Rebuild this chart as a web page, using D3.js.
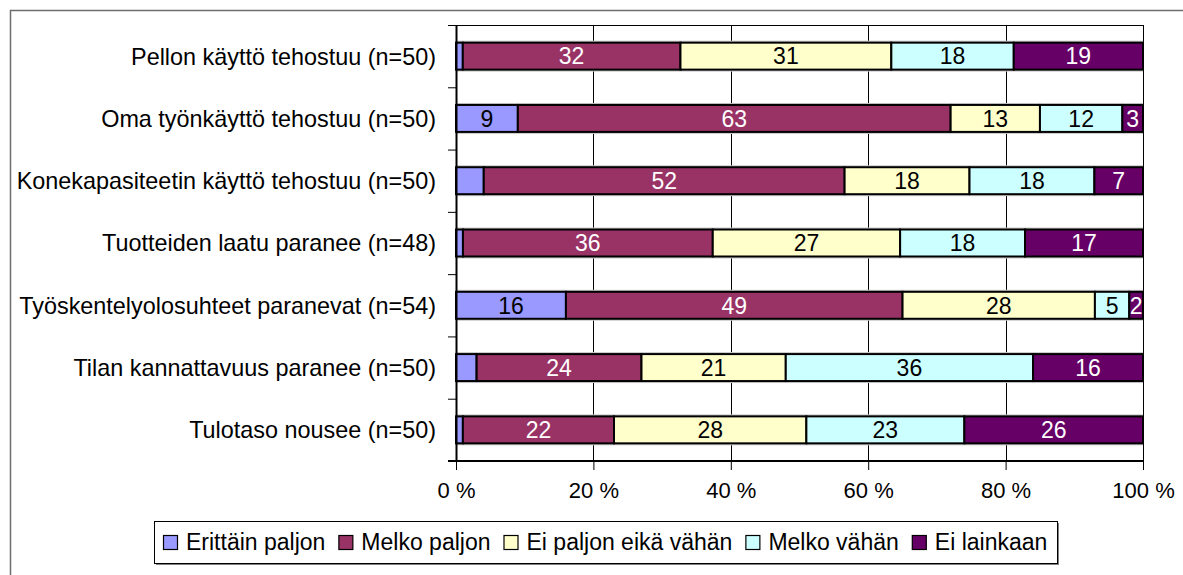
<!DOCTYPE html>
<html>
<head>
<meta charset="utf-8">
<script src="https://cdn.jsdelivr.net/npm/d3@7/dist/d3.min.js"></script>
<style>
  body { margin: 0; background: #fff; }
  svg { display: block; font-family: "Liberation Sans", Arial, sans-serif; }
</style>
</head>
<body>
<div id="chart"></div>
<script>
var categories = [
  'Pellon käyttö tehostuu (n=50)',
  'Oma työnkäyttö tehostuu (n=50)',
  'Konekapasiteetin käyttö tehostuu (n=50)',
  'Tuotteiden laatu paranee (n=48)',
  'Työskentelyolosuhteet paranevat (n=54)',
  'Tilan kannattavuus paranee (n=50)',
  'Tulotaso nousee (n=50)'
];
var seriesNames = ['Erittäin paljon', 'Melko paljon', 'Ei paljon eikä vähän', 'Melko vähän', 'Ei lainkaan'];
var erittainPaljon = [1, 9, 4, 1, 16, 3, 1];
var melkoPaljon = [32, 63, 52, 36, 49, 24, 22];
var eiPaljonEikaVahan = [31, 13, 18, 27, 28, 21, 28];
var melkoVahan = [18, 12, 18, 18, 5, 36, 23];
var eiLainkaan = [19, 3, 7, 17, 2, 16, 26];
var xTicks = [0, 0.2, 0.4, 0.6, 0.8, 1];

var colors = ['#9999ff', '#993366', '#ffffcc', '#ccffff', '#660066'];
var labelColors = ['#000', '#fff', '#000', '#000', '#fff'];

var _width = 1183, _height = 575;
var _left = 456, _right = 1143, _top = 25, _bottom = 461;

var seriesData = [erittainPaljon, melkoPaljon, eiPaljonEikaVahan, melkoVahan, eiLainkaan];
var rows = categories.map(function(c, i) {
  var r = { cat: c };
  seriesNames.forEach(function(s, j) { r[s] = seriesData[j][i]; });
  return r;
});

var stacked = d3.stack().keys(seriesNames).offset(d3.stackOffsetExpand)(rows);

var svg = d3.select('#chart').append('svg')
  .attr('width', _width).attr('height', _height);

// outer chart border
svg.append('rect')
  .attr('x', 10.5).attr('y', 10.5)
  .attr('width', _width).attr('height', _height)
  .attr('fill', 'none').attr('stroke', '#6e6e6e').attr('stroke-width', 1.5);

var x = d3.scaleLinear().domain([0, 1]).range([_left, _right]);
var y = d3.scaleBand().domain(categories).range([_top, _bottom])
  .paddingInner(0.567).paddingOuter(0.567 / 2);
var yEdge = d3.scaleLinear().domain([0, categories.length]).range([_top, _bottom]);

// gridlines
svg.append('g').selectAll('line')
  .data(xTicks.slice(1))
  .enter().append('line')
    .attr('x1', function(d) { return Math.round(x(d)) + 0.5; })
    .attr('x2', function(d) { return Math.round(x(d)) + 0.5; })
    .attr('y1', _top).attr('y2', _bottom)
    .attr('stroke', '#000').attr('stroke-width', 1);

svg.append('line')
  .attr('x1', _left).attr('x2', _right + 1)
  .attr('y1', _top + 0.5).attr('y2', _top + 0.5)
  .attr('stroke', '#000').attr('stroke-width', 1);

// bars (light shadow first, then the segments)
svg.append('g').selectAll('rect')
  .data(categories)
  .enter().append('rect')
    .attr('x', _left).attr('y', function(d) { return y(d) - 2; })
    .attr('width', _right - _left).attr('height', y.bandwidth() + 4)
    .attr('fill', '#c8c8c8');

var layer = svg.append('g').selectAll('g')
  .data(stacked)
  .enter().append('g')
    .attr('fill', function(d, i) { return colors[i]; });

layer.selectAll('rect')
  .data(function(d) { return d; })
  .enter().append('rect')
    .attr('x', function(d) { return x(d[0]); })
    .attr('y', function(d) { return y(d.data.cat); })
    .attr('width', function(d) { return x(d[1]) - x(d[0]); })
    .attr('height', y.bandwidth())
    .attr('stroke', '#000').attr('stroke-width', 2);

// data labels
stacked.forEach(function(s, i) {
  svg.append('g').selectAll('text')
    .data(s.filter(function(d) { return !(i === 0 && d.data[s.key] < 5); }))
    .enter().append('text')
      .attr('x', function(d) { return (x(d[0]) + x(d[1])) / 2; })
      .attr('y', function(d) { return y(d.data.cat) + y.bandwidth() / 2; })
      .attr('dy', '0.36em')
      .attr('text-anchor', 'middle')
      .attr('font-size', 23)
      .attr('fill', labelColors[i])
      .text(function(d) { return d.data[s.key]; });
});

// x axis
var xAxis = svg.append('g')
  .attr('transform', 'translate(0,' + _bottom + ')')
  .call(d3.axisBottom(x).tickValues(xTicks).tickSize(9).tickSizeOuter(0)
    .tickFormat(function(d) { return Math.round(d * 100) + ' %'; }));
xAxis.select('.domain').attr('stroke', '#000').attr('stroke-width', 2)
  .attr('d', 'M' + (_left - 8) + ',0H' + (_right + 1));
xAxis.selectAll('.tick line').attr('stroke', '#000').attr('stroke-width', 1);
xAxis.selectAll('.tick text')
  .attr('font-size', 22).attr('font-family', null).attr('fill', '#000')
  .attr('y', 29).attr('dy', '0.36em');

// y axis (ticks on category boundaries)
var yAxis = svg.append('g')
  .attr('transform', 'translate(' + _left + ',0)')
  .call(d3.axisLeft(yEdge).tickValues(d3.range(categories.length + 1))
    .tickSize(8).tickSizeOuter(0).tickFormat(''));
yAxis.select('.domain').attr('stroke', '#000').attr('stroke-width', 2);
yAxis.selectAll('.tick line').attr('stroke', '#000').attr('stroke-width', 1);

// category labels
svg.append('g').selectAll('text')
  .data(categories)
  .enter().append('text')
    .attr('x', 436)
    .attr('y', function(d) { return y(d) + y.bandwidth() / 2; })
    .attr('dy', '0.36em')
    .attr('text-anchor', 'end')
    .attr('font-size', 23.4)
    .attr('fill', '#000')
    .text(function(d) { return d; });

// legend
var lgX = 154, lgY = 521, lgW = 903, lgH = 42;
svg.append('rect')
  .attr('x', lgX + 2).attr('y', lgY + 2).attr('width', lgW).attr('height', lgH)
  .attr('fill', '#808080');
svg.append('rect')
  .attr('x', lgX + 0.5).attr('y', lgY + 0.5).attr('width', lgW).attr('height', lgH)
  .attr('fill', '#fff').attr('stroke', '#000').attr('stroke-width', 1);

var legend = svg.append('g');
var cursor = 163;
seriesNames.forEach(function(name, i) {
  var item = legend.append('g').attr('transform', 'translate(' + cursor + ',' + (lgY + lgH / 2) + ')');
  item.append('rect')
    .attr('x', 0.5).attr('y', -6.5).attr('width', 14).attr('height', 14)
    .attr('fill', colors[i]).attr('stroke', '#000').attr('stroke-width', 1.2);
  var t = item.append('text')
    .attr('x', 23).attr('dy', '0.36em')
    .attr('font-size', 23).attr('fill', '#000')
    .text(name);
  cursor += 23 + t.node().getComputedTextLength() + 13;
});
</script>
</body>
</html>
